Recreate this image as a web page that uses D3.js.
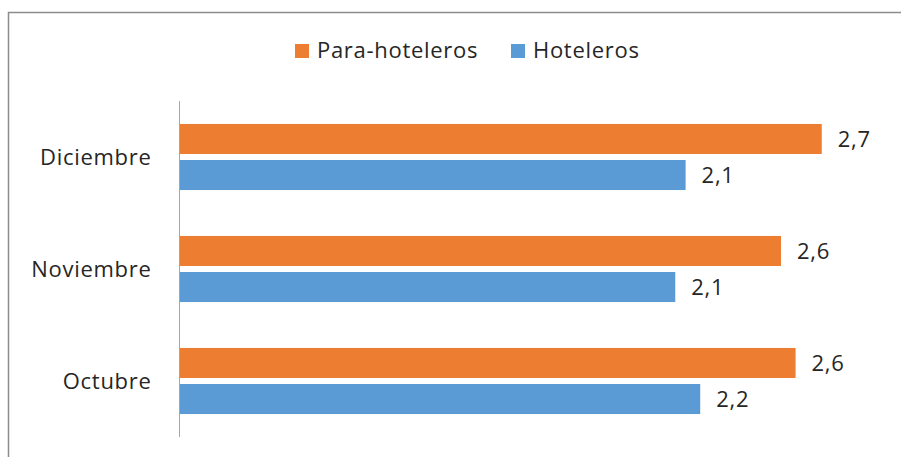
<!DOCTYPE html>
<html lang="es">
<head>
<meta charset="utf-8">
<title>Para-hoteleros y Hoteleros</title>
<script src="https://d3js.org/d3.v7.min.js"></script>
<style>
  body { margin: 0; background: #fff; }
  svg text { font-family: "Open Sans", sans-serif; fill: #262626; letter-spacing: 0.7px; }
</style>
</head>
<body>
<script>
// data
const months = ["Diciembre", "Noviembre", "Octubre"];
const series = ["Para-hoteleros", "Hoteleros"];
const paraHoteleros = [2.725, 2.552, 2.614];
const hoteleros = [2.147, 2.103, 2.209];
const colors = ["#ED7D31", "#5B9BD5"];

const width = 901, height = 457;

const svg = d3.select("body").append("svg")
    .attr("width", width)
    .attr("height", height);

// chart frame (only top and left edges visible)
svg.append("path")
    .attr("d", "M8.5," + height + "V12.5H" + width)
    .attr("fill", "none")
    .attr("stroke", "#8c8c8c")
    .attr("stroke-width", 1.5);

const rows = months.map((m, i) => ({ month: m, values: [paraHoteleros[i], hoteleros[i]] }));

const x = d3.scaleLinear().domain([0, 3]).range([180, 886.5]);

const y = d3.scaleBand()
    .domain(months)
    .range([101, 437])
    .paddingInner(0.41)
    .paddingOuter(0.205);

const ySub = d3.scaleBand()
    .domain(series)
    .range([0, y.bandwidth()])
    .paddingInner(0.167);

const fmt = d3.formatLocale({ decimal: ",", thousands: ".", grouping: [3], currency: ["", ""] }).format(".1f");

const groups = svg.selectAll("g.month")
    .data(rows)
    .enter().append("g")
    .attr("class", "month")
    .attr("transform", d => "translate(0," + y(d.month) + ")");

groups.selectAll("rect")
    .data(d => d.values.map((v, j) => ({ key: series[j], value: v, c: colors[j] })))
    .enter().append("rect")
    .attr("x", x(0))
    .attr("y", d => ySub(d.key))
    .attr("width", d => x(d.value) - x(0))
    .attr("height", ySub.bandwidth())
    .attr("fill", d => d.c);

groups.selectAll("text.val")
    .data(d => d.values.map((v, j) => ({ key: series[j], value: v })))
    .enter().append("text")
    .attr("class", "val")
    .attr("x", d => x(d.value) + 16)
    .attr("y", d => ySub(d.key) + ySub.bandwidth() / 2 + 8)
    .style("font-size", "22px")
    .text(d => fmt(d.value));

// left axis
const axis = svg.append("g")
    .attr("transform", "translate(179.5,0)")
    .call(d3.axisLeft(y).tickSize(0).tickPadding(28));
axis.select(".domain").attr("stroke", "#a6a6a6").attr("d", "M0,101V437");
axis.selectAll("text")
    .attr("dy", "0.36em")
    .style("font-size", "22px")
    .style("font-family", "'Open Sans', sans-serif")
    .attr("fill", "#262626");

// legend
const legend = svg.append("g");
const legX = [295, 511];
series.forEach((s, i) => {
  legend.append("rect")
      .attr("x", legX[i]).attr("y", 44)
      .attr("width", 14).attr("height", 14)
      .attr("fill", colors[i]);
  legend.append("text")
      .attr("x", legX[i] + 22).attr("y", 58)
      .style("font-size", "22px")
      .text(s);
});
</script>
</body>
</html>
